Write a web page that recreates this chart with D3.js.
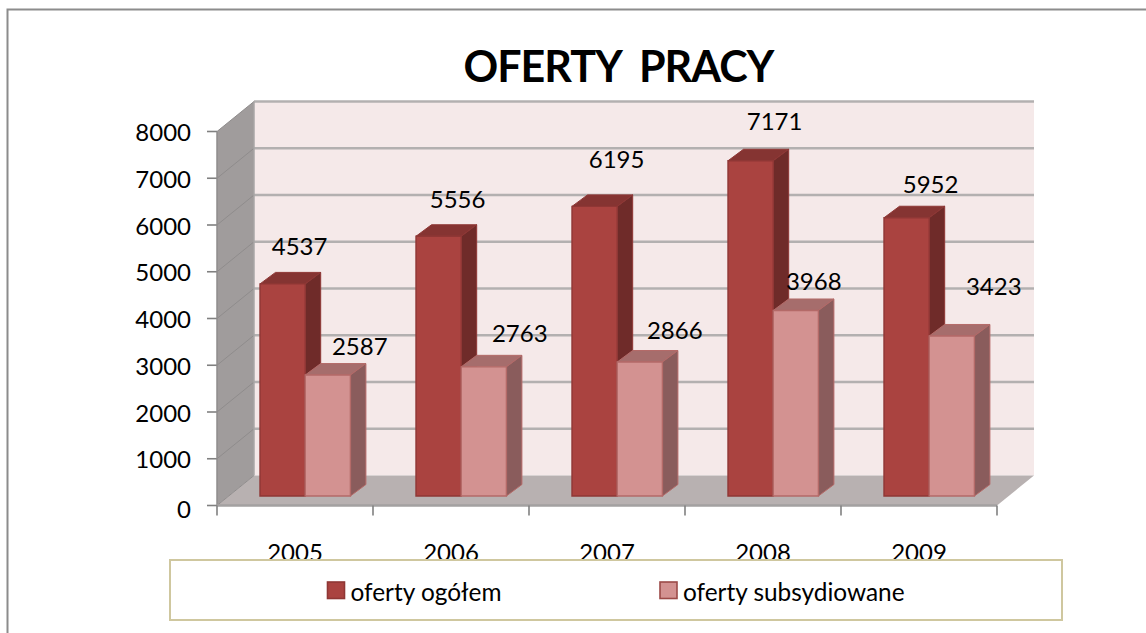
<!DOCTYPE html>
<html><head><meta charset="utf-8">
<style>html,body{margin:0;padding:0;background:#fff}svg{display:block}text{font-family:Lato,"Open Sans",sans-serif;fill:#000}</style>
<script src="https://cdnjs.cloudflare.com/ajax/libs/d3/7.8.5/d3.min.js"></script>
</head><body><svg id="c" width="1146" height="633"></svg>
<script>
const title = "OFERTY  PRACY";
const years = ["2005","2006","2007","2008","2009"];
const ofertyOgolem = [4537,5556,6195,7171,5952];
const ofertySubsydiowane = [2587,2763,2866,3968,3423];
const seriesNames = ["oferty ogółem","oferty subsydiowane"];
const yTicks = [0,1000,2000,3000,4000,5000,6000,7000,8000];

const svg = d3.select("#c");
const x = d3.scaleBand().domain(years).range([217,997]);
const y = d3.scaleLinear().domain([0,8000]).range([505.5,131.5]);
const wallDx = 37, wallDy = -30;
const barBaseShift = -9.5, barInset = 43, barW = 45.2, barDx = 15.5, barDy = -11.5;
const fs = 24;

const poly = (pts,fill,stroke,sw) => svg.append("polygon").attr("points",pts.map(p=>p.join(",")).join(" "))
  .attr("fill",fill).attr("stroke",stroke||"none").attr("stroke-width",sw||0);

// page frame
svg.append("path").attr("d","M7.5,633V9.5H1146").attr("fill","none").attr("stroke","#8c8c8c").attr("stroke-width",2);

// walls
const [xl,xr] = x.range(), y0=y(0), yT=y(8000);
poly([[xl,y0],[xl+wallDx,y0+wallDy],[xl+wallDx,yT+wallDy],[xl,yT]],"#a09c9c");
poly([[xl+wallDx,y0+wallDy],[xr+wallDx,y0+wallDy],[xr+wallDx,yT+wallDy],[xl+wallDx,yT+wallDy]],"#f5e9e9");
poly([[xl,y0],[xr,y0],[xr+wallDx,y0+wallDy],[xl+wallDx,y0+wallDy]],"#b8b1b1");

// gridlines
yTicks.forEach(t=>{
  if(t>0) svg.append("line").attr("x1",xl+wallDx).attr("x2",xr+wallDx).attr("y1",y(t)+wallDy).attr("y2",y(t)+wallDy).attr("stroke","#b3b0b0").attr("stroke-width",2.6);
  svg.append("line").attr("x1",xl).attr("x2",xl+wallDx).attr("y1",y(t)).attr("y2",y(t)+wallDy).attr("stroke","#8f8c8c").attr("stroke-width",1);
  svg.append("line").attr("x1",xl-10).attr("x2",xl).attr("y1",y(t)).attr("y2",y(t)).attr("stroke","#808080").attr("stroke-width",1.6);
  svg.append("text").attr("x",xl-26).attr("y",y(t)+(t===0?12:9.5)).attr("text-anchor","end").attr("font-size",fs).text(t);
});
svg.append("line").attr("x1",xl).attr("x2",xl).attr("y1",y0).attr("y2",yT).attr("stroke","#8f8c8c").attr("stroke-width",1.5);
svg.append("line").attr("x1",xl+wallDx).attr("x2",xl+wallDx).attr("y1",y0+wallDy).attr("y2",yT+wallDy).attr("stroke","#a9a6a6").attr("stroke-width",1.5);
svg.append("line").attr("x1",xl).attr("x2",xr).attr("y1",y0).attr("y2",y0).attr("stroke","#a3a1a1").attr("stroke-width",2.4);

// x ticks
[...years.map(d=>x(d)),xr].forEach(px=>svg.append("line").attr("x1",px).attr("x2",px).attr("y1",y0).attr("y2",y0+10).attr("stroke","#808080").attr("stroke-width",1.6));
years.forEach(d=>svg.append("text").attr("x",x(d)+x.bandwidth()/2).attr("y",561).attr("text-anchor","middle").attr("font-size",fs).text(d));

// 3D bars
const styles = [
 {front:"#aa4340",top:"#853432",side:"#6f2b29",edge:"#8f3735"},
 {front:"#d39291",top:"#a66d6c",side:"#8a5c5c",edge:"#b46a68"}
];
function bar(left,v,s){
  const b=y(0)+barBaseShift, t=y(v)+barBaseShift, r=left+barW;
  poly([[left,t],[r,t],[r+barDx,t+barDy],[left+barDx,t+barDy]],s.top,s.edge,1);
  poly([[r,t],[r+barDx,t+barDy],[r+barDx,b+barDy],[r,b]],s.side,s.edge,1);
  poly([[left,t],[r,t],[r,b],[left,b]],s.front,s.edge,1.4);
}
years.forEach((d,i)=>{
  const l=x(d)+barInset;
  bar(l,ofertyOgolem[i],styles[0]);
  bar(l+barW,ofertySubsydiowane[i],styles[1]);
});

// data labels (hand-placed in the original)
const nudgeA=[[17,-29],[19,-28],[22,-38],[24,-31],[24,-25]];
const nudgeB=[[32,-20],[36,-25],[35,-23],[18,-20],[42,-41]];
years.forEach((d,i)=>{
  const l=x(d)+barInset;
  svg.append("text").attr("x",l+nudgeA[i][0]+barW/2).attr("y",y(ofertyOgolem[i])+barBaseShift+nudgeA[i][1]).attr("text-anchor","middle").attr("font-size",fs).text(ofertyOgolem[i]);
  svg.append("text").attr("x",l+barW+nudgeB[i][0]+barW/2).attr("y",y(ofertySubsydiowane[i])+barBaseShift+nudgeB[i][1]).attr("text-anchor","middle").attr("font-size",fs).text(ofertySubsydiowane[i]);
});

// title
svg.append("text").attr("x",618.5).attr("y",82).attr("text-anchor","middle").attr("font-size",43).attr("font-weight",700).attr("letter-spacing",-1).style("white-space","pre").text(title);

// legend
svg.append("rect").attr("x",170).attr("y",560).attr("width",892).attr("height",60).attr("fill","#fff").attr("stroke","#cfc79f").attr("stroke-width",2);
const legendX=[327.5,660];
const legendEdge=["#8f3735","#9c4a48"];
seriesNames.forEach((n,i)=>{
  svg.append("rect").attr("x",legendX[i]).attr("y",582).attr("width",17).attr("height",16.5).attr("fill",styles[i].front).attr("stroke",legendEdge[i]).attr("stroke-width",1.6);
  svg.append("text").attr("x",legendX[i]+23).attr("y",600.5).attr("font-size",24.4).text(n);
});
</script></body></html>
